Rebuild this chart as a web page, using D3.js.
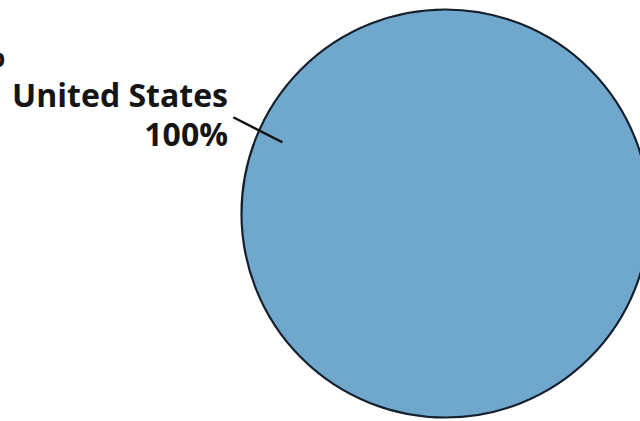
<!DOCTYPE html>
<html>
<head>
<meta charset="utf-8">
<script src="https://cdn.jsdelivr.net/npm/d3@7"></script>
<style>
  body { margin: 0; background: #fff; }
  svg { display: block; }
</style>
</head>
<body>
<div id="chart"></div>
<script>
const countries = ["United States"];
const shares = [100];
const labels = ["United States", "100%"];

const width = 640,
  height = 421;

const svg = d3
  .select("#chart")
  .append("svg")
  .attr("width", width)
  .attr("height", height);

const cx = 445.5,
  cy = 213.5,
  radius = 204;

const data = countries.map((c, i) => ({ country: c, value: shares[i] }));

const pie = d3.pie().sort(null).value((d) => d.value);
const arc = d3.arc().innerRadius(0).outerRadius(radius);

const g = svg.append("g").attr("transform", "translate(" + cx + "," + cy + ")");

g.selectAll("path")
  .data(pie(data))
  .enter()
  .append("path")
  .attr("d", arc)
  .attr("fill", "#70a7cc")
  .attr("stroke", "#15202c")
  .attr("stroke-width", 2.2);

// leader line from label to slice
const polar = (a, r) => [Math.sin(a) * r, -Math.cos(a) * r];
const p0 = polar(-1.145, 233),
  p1 = polar(-1.159, 178);
g.append("line")
  .attr("x1", p0[0])
  .attr("y1", p0[1])
  .attr("x2", p1[0])
  .attr("y2", p1[1])
  .attr("stroke", "#111")
  .attr("stroke-width", 2.4);

const font = "'Open Sans', 'DejaVu Sans', sans-serif";

svg
  .append("text")
  .attr("x", 228)
  .attr("y", 107)
  .attr("text-anchor", "end")
  .attr("font-family", font)
  .attr("font-weight", 700)
  .attr("font-size", 32)
  .attr("fill", "#151515")
  .text(labels[0]);

svg
  .append("text")
  .attr("x", 228)
  .attr("y", 146)
  .attr("text-anchor", "end")
  .attr("font-family", font)
  .attr("font-weight", 700)
  .attr("font-size", 32)
  .attr("fill", "#151515")
  .text(labels[1]);

// cut-off label of a neighbouring chart at the left edge
svg
  .append("text")
  .attr("x", 5)
  .attr("y", 67)
  .attr("text-anchor", "end")
  .attr("font-family", font)
  .attr("font-weight", 700)
  .attr("font-size", 32)
  .attr("fill", "#151515")
  .text("%");
</script>
</body>
</html>
